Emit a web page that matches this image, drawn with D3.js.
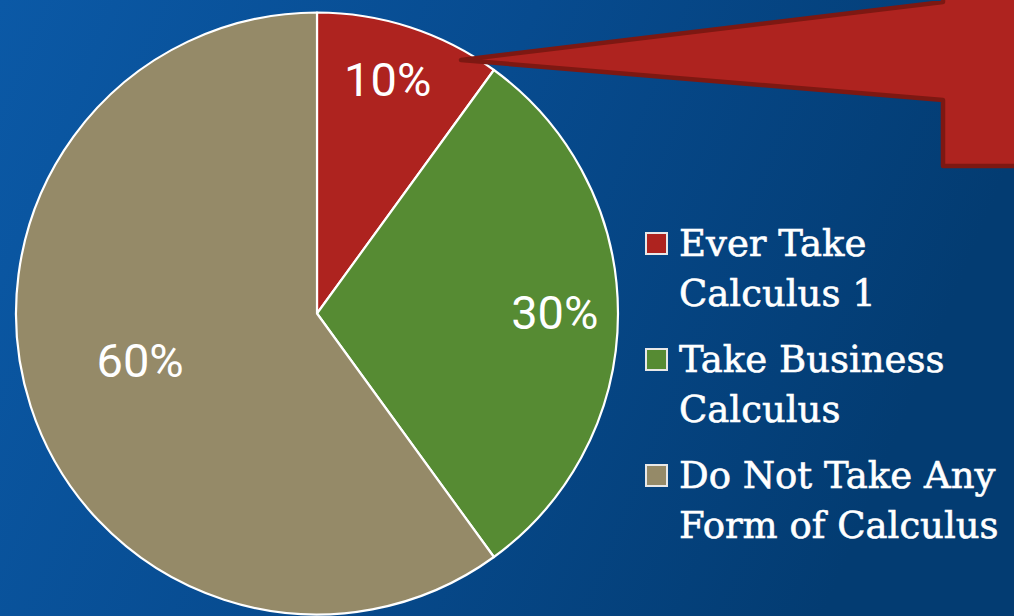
<!DOCTYPE html>
<html>
<head>
<meta charset="utf-8">
<script src="https://cdn.jsdelivr.net/npm/d3@7"></script>
<style>
html,body{margin:0;padding:0;overflow:hidden;background:#0a56a0;}
svg{display:block;}
</style>
</head>
<body>
<svg id="chart" width="1014" height="616"></svg>
<script>
const categories = ["Ever Take Calculus 1", "Take Business Calculus", "Do Not Take Any Form of Calculus"];
const legendLines = [["Ever Take", "Calculus 1"], ["Take Business", "Calculus"], ["Do Not Take Any", "Form of Calculus"]];
const values = [10, 30, 60];
const valueLabels = ["10%", "30%", "60%"];
const colors = ["#ae231f", "#568b33", "#958a68"];

const W = 1014, H = 616;
const svg = d3.select("#chart");

// background gradient
const defs = svg.append("defs");
const bg = defs.append("linearGradient").attr("id", "bg").attr("x1", "0").attr("y1", "0").attr("x2", "1").attr("y2", "0.25");
bg.append("stop").attr("offset", "0").attr("stop-color", "#0b59a6");
bg.append("stop").attr("offset", "0.5").attr("stop-color", "#074b8f");
bg.append("stop").attr("offset", "1").attr("stop-color", "#033c72");
svg.append("rect").attr("width", W).attr("height", H).attr("fill", "url(#bg)");

const cx = 317, cy = 313.5, R = 301;
const pie = d3.pie().value(d => d).sort(null);
const arcs = pie(values);
const arc = d3.arc().innerRadius(0).outerRadius(R);

const g = svg.append("g").attr("transform", `translate(${cx},${cy})`);
g.selectAll("path.slice").data(arcs).enter().append("path")
  .attr("class", "slice")
  .attr("d", arc)
  .attr("fill", (d, i) => colors[i])
  .attr("stroke", "#ffffff")
  .attr("stroke-width", 2.2)
  .attr("stroke-linejoin", "round");

const labelFactor = [0.81, 0.79, 0.608];
const labelAngleShift = [-0.02, 0, 0.054];
g.selectAll("text.val").data(arcs).enter().append("text")
  .attr("class", "val")
  .attr("transform", (d, i) => {
    const r = R * labelFactor[i];
    const a = (d.startAngle + d.endAngle) / 2 + labelAngleShift[i];
    return `translate(${Math.sin(a) * r},${-Math.cos(a) * r})`;
  })
  .attr("text-anchor", "middle")
  .attr("dy", "0.34em")
  .attr("fill", "#ffffff")
  .style("font-family", "Roboto, 'Noto Sans', sans-serif")
  .style("font-weight", "400")
  .style("font-size", "47px")
  .text((d, i) => valueLabels[i]);

// callout shape
const callout = d3.path();
callout.moveTo(943, -20);
callout.lineTo(943, 2);
callout.lineTo(461, 60);
callout.lineTo(943, 100);
callout.lineTo(943, 166);
callout.lineTo(1030, 166);
callout.lineTo(1030, -20);
callout.closePath();
svg.append("path").attr("d", callout.toString())
  .attr("fill", "#ae231f")
  .attr("stroke", "#7d1812")
  .attr("stroke-width", 4.5)
  .attr("stroke-linejoin", "round");

// legend
const legendY = [256, 372, 488];
const lg = svg.append("g");
legendLines.forEach((lines, i) => {
  const y0 = legendY[i];
  lg.append("rect")
    .attr("x", 646).attr("y", y0 - 23).attr("width", 21).attr("height", 21)
    .attr("fill", colors[i]).attr("stroke", "#e8e8e8").attr("stroke-width", 2);
  lines.forEach((t, j) => {
    lg.append("text")
      .attr("x", 679).attr("y", y0 + j * 50)
      .attr("fill", "#ffffff")
      .attr("stroke", "#ffffff")
      .attr("stroke-width", 0.6)
      .style("font-family", "'DejaVu Serif', serif")
      .style("font-size", "37px")
      .text(t);
  });
});
</script>
</body>
</html>
